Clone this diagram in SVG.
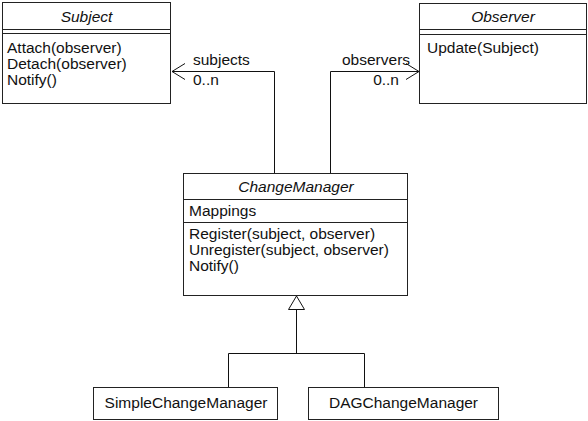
<svg xmlns="http://www.w3.org/2000/svg" width="588" height="421" viewBox="0 0 588 421">
  <style>
    text { font-family: "Liberation Sans", Arial, sans-serif; font-size: 15.5px; fill: #111; }
    .title { font-style: italic; text-anchor: middle; }
    .mid { text-anchor: middle; }
    .end { text-anchor: end; }
    .box { fill: #fff; stroke: #222; stroke-width: 1; }
    .sep { stroke: #222; stroke-width: 1; fill: none; }
    .wire { stroke: #111; stroke-width: 1; fill: none; }
  </style>
  <defs>
    <marker id="open" markerWidth="16" markerHeight="18" refX="14" refY="9" orient="auto" markerUnits="userSpaceOnUse">
      <path d="M1,1 L14,9 L1,17" fill="none" stroke="#111" stroke-width="1"/>
    </marker>
  </defs>
  <rect width="588" height="421" fill="#fff"/>

  <!-- connectors -->
  <g id="connectors">
    <path class="wire" d="M274.5,173 V71.5 H172" marker-end="url(#open)"/>
    <path class="wire" d="M330.5,173 V71.5 H419" marker-end="url(#open)"/>
    <text x="193" y="65">subjects</text>
    <text x="193" y="85">0..n</text>
    <text x="342" y="65">observers</text>
    <text class="end" x="399" y="85">0..n</text>
    <!-- generalization -->
    <path class="wire" d="M296.5,309 V353.5 M228.5,387 V353.5 H364.5 V387"/>
    <polygon points="296.5,296 288.5,309.5 304.5,309.5" fill="#fff" stroke="#111" stroke-width="1"/>
  </g>

  <!-- Subject -->
  <g id="subject">
    <rect class="box" x="2.5" y="2.5" width="168" height="101"/>
    <path class="sep" d="M2.5,29.5 H170.5 M2.5,33.5 H170.5"/>
    <text class="title" x="86.5" y="22">Subject</text>
    <text x="7" y="53">Attach(observer)</text>
    <text x="7" y="69">Detach(observer)</text>
    <text x="7" y="85">Notify()</text>
  </g>

  <!-- Observer -->
  <g id="observer">
    <rect class="box" x="419.5" y="3.5" width="167" height="100"/>
    <path class="sep" d="M419.5,29.5 H586.5 M419.5,34.5 H586.5"/>
    <text class="title" x="503" y="22">Observer</text>
    <text x="427" y="53">Update(Subject)</text>
  </g>

  <!-- ChangeManager -->
  <g id="changemanager">
    <rect class="box" x="183.5" y="173.5" width="224" height="122"/>
    <path class="sep" d="M183.5,199.5 H407.5 M183.5,222.5 H407.5"/>
    <text class="title" x="296" y="192">ChangeManager</text>
    <text x="189" y="216">Mappings</text>
    <text x="189" y="239">Register(subject, observer)</text>
    <text x="189" y="255">Unregister(subject, observer)</text>
    <text x="189" y="271">Notify()</text>
  </g>

  <!-- SimpleChangeManager -->
  <g id="simplechangemanager">
    <rect class="box" x="93.5" y="387.5" width="184" height="32"/>
    <text class="mid" x="186" y="408">SimpleChangeManager</text>
  </g>

  <!-- DAGChangeManager -->
  <g id="dagchangemanager">
    <rect class="box" x="308.5" y="387.5" width="190" height="32"/>
    <text class="mid" x="403.5" y="408">DAGChangeManager</text>
  </g>
</svg>
